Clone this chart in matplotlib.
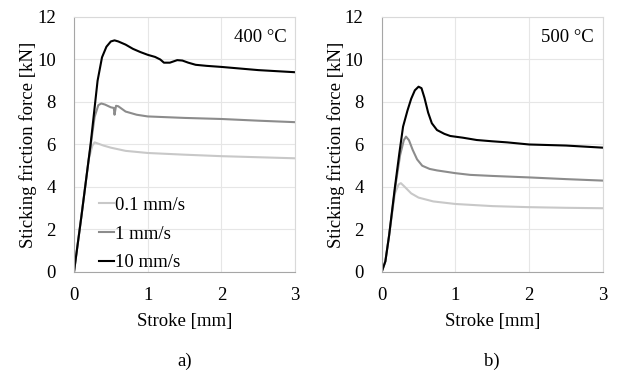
import numpy as np
import matplotlib
matplotlib.use("Agg")
import matplotlib.pyplot as plt

plt.rcParams['font.family'] = ['Liberation Serif', 'DejaVu Serif']

speeds = ['0.1 mm/s', '1 mm/s', '10 mm/s']
colors = ['#c8c8c8', '#8c8c8c', '#000000']

# 400 °C
x400_01 = [0, 0.1, 0.2, 0.25, 0.28, 0.32, 0.4, 0.5, 0.7, 1.0, 1.5, 2.0, 2.5, 3.0]
y400_01 = [0, 2.6, 5.3, 5.95, 6.1, 6.05, 5.95, 5.85, 5.7, 5.6, 5.52, 5.45, 5.4, 5.35]
x400_1 = [0, 0.1, 0.2, 0.28, 0.33, 0.37, 0.42, 0.5, 0.54, 0.55, 0.57, 0.6, 0.7, 0.85, 1.0, 1.5, 2.0, 2.5, 3.0]
y400_1 = [0, 2.6, 5.3, 7.3, 7.85, 7.93, 7.88, 7.75, 7.72, 7.4, 7.82, 7.8, 7.55, 7.4, 7.32, 7.25, 7.2, 7.12, 7.05]
x400_10 = [0, 0.1, 0.225, 0.32, 0.38, 0.44, 0.5, 0.55, 0.6, 0.7, 0.8, 0.9, 1.0, 1.1, 1.17, 1.22, 1.3, 1.4, 1.47, 1.55, 1.65, 1.8, 2.0, 2.5, 3.0]
y400_10 = [0, 2.6, 6.0, 9.0, 10.1, 10.6, 10.85, 10.9, 10.85, 10.7, 10.5, 10.35, 10.22, 10.12, 10.0, 9.85, 9.85, 9.97, 9.95, 9.85, 9.75, 9.7, 9.65, 9.5, 9.4]

# 500 °C
x500_01 = [0, 0.05, 0.1, 0.18, 0.23, 0.26, 0.3, 0.4, 0.5, 0.7, 1.0, 1.5, 2.0, 2.5, 3.0]
y500_01 = [0, 0.5, 1.7, 3.7, 4.12, 4.18, 4.05, 3.7, 3.5, 3.32, 3.2, 3.1, 3.05, 3.02, 3.0]
x500_1 = [0, 0.05, 0.1, 0.18, 0.25, 0.3, 0.33, 0.37, 0.42, 0.48, 0.55, 0.65, 0.75, 1.0, 1.2, 1.5, 2.0, 2.5, 3.0]
y500_1 = [0, 0.5, 1.7, 3.9, 5.5, 6.2, 6.37, 6.2, 5.75, 5.3, 5.0, 4.85, 4.78, 4.65, 4.57, 4.52, 4.45, 4.37, 4.3]
x500_10 = [0, 0.05, 0.1, 0.18, 0.24, 0.29, 0.35, 0.4, 0.45, 0.5, 0.54, 0.58, 0.63, 0.68, 0.75, 0.85, 0.93, 1.1, 1.29, 1.5, 1.7, 2.0, 2.5, 3.0]
y500_10 = [0, 0.5, 1.7, 4.0, 5.6, 6.84, 7.6, 8.15, 8.55, 8.72, 8.65, 8.2, 7.5, 7.0, 6.68, 6.5, 6.4, 6.32, 6.21, 6.15, 6.1, 6.0, 5.95, 5.85]

panels = [
    ('400 °C', 'a)', [(x400_01, y400_01), (x400_1, y400_1), (x400_10, y400_10)]),
    ('500 °C', 'b)', [(x500_01, y500_01), (x500_1, y500_1), (x500_10, y500_10)]),
]

fs = 13.5
fig = plt.figure(figsize=(6.18, 3.71), dpi=100)
lefts = [0.1197, 0.6176]
for i, (temp, tag, series) in enumerate(panels):
    ax = fig.add_axes([lefts[i], 0.2669, 0.358, 0.6873])
    for (xs, ys), c, lab in zip(series, colors, speeds):
        ax.plot(xs, ys, color=c, lw=1.5, label=lab, solid_joinstyle='round')
    ax.set_xlim(0, 3)
    ax.set_ylim(0, 12)
    ax.set_xticks([0, 1, 2, 3])
    ax.set_yticks(range(0, 13, 2))
    ax.grid(True, color='#e6e6e6', lw=0.8)
    ax.set_axisbelow(True)
    for s in ax.spines.values():
        s.set_color('#d9d9d9')
        s.set_linewidth(0.8)
    ax.spines['left'].set_color('#a6a6a6')
    ax.spines['bottom'].set_color('#a6a6a6')
    ax.tick_params(axis='y', length=0, labelsize=fs, pad=13)
    ax.tick_params(axis='x', length=0, labelsize=fs, pad=11)
    ax.set_xlabel('Stroke [mm]', fontsize=fs, labelpad=6)
    ax.set_ylabel('Sticking friction force [kN]', fontsize=fs, labelpad=0)
    ax.text(0.96, 0.92, temp, transform=ax.transAxes, ha='right', va='center', fontsize=fs)
    fig.text(lefts[i] + 0.179, 0.027, tag, ha='center', va='center', fontsize=fs)
    if i == 0:
        ax.legend(loc='lower left', frameon=False, fontsize=fs, handlelength=0.8,
                  handletextpad=0.1, labelspacing=0.62, borderaxespad=0.0,
                  bbox_to_anchor=(0.077, -0.027))

fig.savefig('out.png', dpi=100)
